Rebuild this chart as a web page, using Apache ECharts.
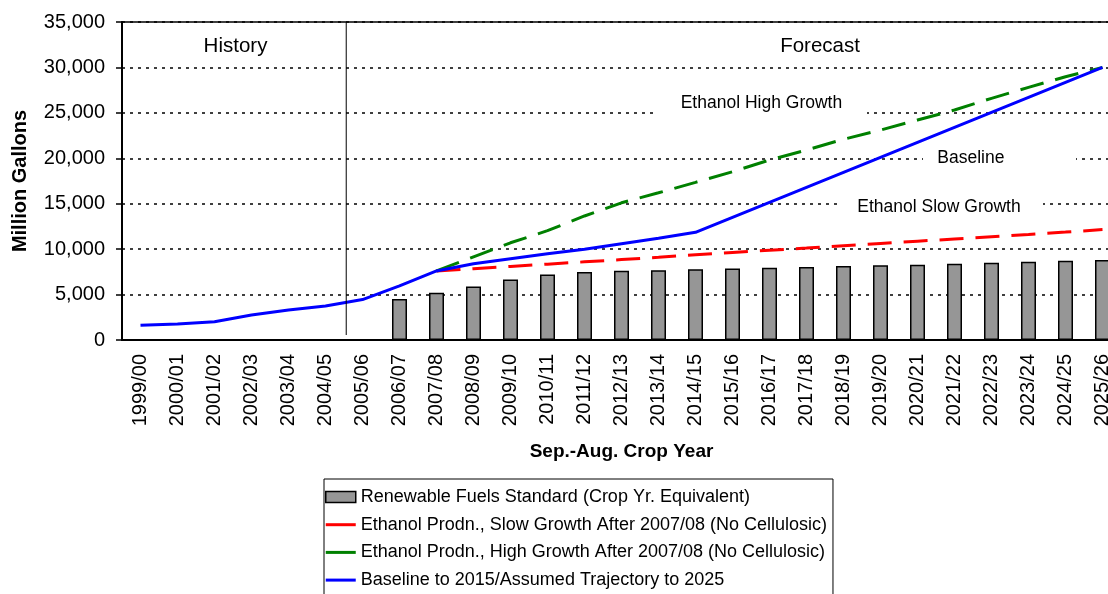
<!DOCTYPE html>
<html>
<head>
<meta charset="utf-8">
<script src="https://cdn.jsdelivr.net/npm/echarts@6/dist/echarts.min.js"></script>
<style>
html,body{margin:0;padding:0;background:#fff;}
#c{width:1108px;height:594px;}
</style>
</head>
<body>
<div id="c"></div>
<script>
const categories = ['1999/00','2000/01','2001/02','2002/03','2003/04','2004/05','2005/06','2006/07','2007/08','2008/09','2009/10','2010/11','2011/12','2012/13','2013/14','2014/15','2015/16','2016/17','2017/18','2018/19','2019/20','2020/21','2021/22','2022/23','2023/24','2024/25','2025/26'];
const yTicks = [0, 5000, 10000, 15000, 20000, 25000, 30000, 35000];

const seriesNames = [
  'Renewable Fuels Standard (Crop Yr. Equivalent)',
  'Ethanol Prodn., Slow Growth After 2007/08 (No Cellulosic)',
  'Ethanol Prodn., High Growth After 2007/08 (No Cellulosic)',
  'Baseline to 2015/Assumed Trajectory to 2025'
];

const rfsStandard = [null,null,null,null,null,null,null,4500,5200,5900,6650,7200,7480,7620,7680,7800,7870,7960,8030,8140,8220,8290,8400,8510,8620,8730,8800];
const slowGrowth = [null,null,null,null,null,null,null,null,7600,7850,8100,8350,8600,8850,9100,9380,9630,9880,10120,10370,10620,10870,11120,11370,11620,11880,12150];
const highGrowth = [null,null,null,null,null,null,null,null,7600,9150,10700,12030,13650,15100,16200,17350,18520,19810,20910,22090,23110,24210,25310,26600,27810,28980,30000];
const baseline = [1610,1760,2010,2750,3300,3740,4450,5950,7600,8400,8950,9500,10000,10600,11200,11850,13500,15150,16800,18450,20100,21750,23400,25050,26700,28350,30000];

const annotations = ['History', 'Forecast', 'Ethanol High Growth', 'Baseline', 'Ethanol Slow Growth'];

const FONT = "'Liberation Sans', Arial, Helvetica, sans-serif";
const fmt = v => String(v).replace(/\B(?=(\d{3})+(?!\d))/g, ',');
const LINE_ICON = 'path://M0,0H30V3H0Z';

const chart = echarts.init(document.getElementById('c'), null, {renderer: 'canvas'});

const option = {
  animation: false,
  backgroundColor: '#fff',
  textStyle: {fontFamily: FONT, color: '#000'},
  grid: {left: 122, top: 22, width: 999, height: 318, outerBoundsMode: 'none', containLabel: false,
         show: true, borderColor: '#000', borderWidth: 1.5, backgroundColor: 'transparent'},
  legend: {
    orient: 'vertical', left: 324, top: 479, height: 160,
    borderColor: '#000', borderWidth: 1, padding: [8, 6, 8, 1],
    itemWidth: 30, itemHeight: 11, itemGap: 7.7,
    symbolKeepAspect: true,
    textStyle: {fontFamily: FONT, fontSize: 18, color: '#000', lineHeight: 20},
    data: [
      {name: seriesNames[0], icon: 'rect', itemStyle: {color: '#969696', borderColor: '#000', borderWidth: 1.5}},
      {name: seriesNames[1], icon: LINE_ICON, itemStyle: {color: '#ff0000', borderWidth: 0}},
      {name: seriesNames[2], icon: LINE_ICON, itemStyle: {color: '#008000', borderWidth: 0}},
      {name: seriesNames[3], icon: LINE_ICON, itemStyle: {color: '#0000ff', borderWidth: 0}}
    ]
  },
  xAxis: {
    type: 'category', data: categories, boundaryGap: true,
    axisLine: {show: true, lineStyle: {color: '#000', width: 2}},
    axisTick: {show: false},
    axisLabel: {interval: 0, rotate: 90, margin: 14, fontSize: 20, color: '#000', fontFamily: FONT},
    splitLine: {show: false},
    name: 'Sep.-Aug. Crop Year', nameLocation: 'middle', nameGap: 102,
    nameTextStyle: {fontSize: 19, fontWeight: 'bold', color: '#000', fontFamily: FONT}
  },
  yAxis: {
    type: 'value', min: 0, max: 35000, interval: 5000,
    axisLine: {show: true, lineStyle: {color: '#000', width: 2}},
    axisTick: {show: true, length: 6, lineStyle: {color: '#000', width: 1.5}},
    axisLabel: {margin: 17, fontSize: 20, color: '#000', fontFamily: FONT, formatter: v => fmt(v)},
    splitLine: {show: true, lineStyle: {color: '#000', width: 1.5, type: [3, 5]}},
    name: 'Million Gallons', nameLocation: 'middle', nameGap: 92,
    nameTextStyle: {fontSize: 20, fontWeight: 'bold', color: '#000', fontFamily: FONT}
  },
  series: [
    {name: seriesNames[0], type: 'bar', data: rfsStandard, barWidth: 15,
     itemStyle: {color: '#969696', borderColor: '#000', borderWidth: 1.5}, z: 2},
    {name: seriesNames[1], type: 'line', data: slowGrowth, symbol: 'none', showSymbol: false,
     lineStyle: {color: '#ff0000', width: 3, type: [24, 12]}, itemStyle: {color: '#ff0000'}, z: 3},
    {name: seriesNames[2], type: 'line', data: highGrowth, symbol: 'none', showSymbol: false,
     lineStyle: {color: '#008000', width: 3, type: [24, 12]}, itemStyle: {color: '#008000'}, z: 4},
    {name: seriesNames[3], type: 'line', data: baseline, symbol: 'none', showSymbol: false,
     lineStyle: {color: '#0000ff', width: 3, type: 'solid'}, itemStyle: {color: '#0000ff'}, z: 5}
  ]
};

chart.setOption(option);

const px5 = chart.convertToPixel({xAxisIndex: 0}, 5);
const px6 = chart.convertToPixel({xAxisIndex: 0}, 6);
const divX = px5 + 0.56 * (px6 - px5);
const yTop = chart.convertToPixel({yAxisIndex: 0}, 35000);
const yBot = chart.convertToPixel({yAxisIndex: 0}, 550);

function box(x1, x2, yc, h) {
  return {type: 'rect', z: 1, shape: {x: x1, y: yc - h / 2, width: x2 - x1, height: h}, style: {fill: '#fff'}, silent: true};
}
function label(txt, x, y, size, align) {
  return {type: 'text', z: 10, x: x, y: y, silent: true,
    style: {text: txt, font: size + 'px ' + FONT, fill: '#000', align: align || 'left', verticalAlign: 'middle'}};
}

chart.setOption({
  graphic: [
    {type: 'line', z: 6, silent: true, shape: {x1: divX, y1: yTop, x2: divX, y2: yBot}, style: {stroke: '#000', lineWidth: 1}},
    label(annotations[0], 235.5, 46, 20.5, 'center'),
    label(annotations[1], 820, 46, 20.5, 'center'),
    box(653, 867, 103, 30),
    label(annotations[2], 680.7, 103.3, 17.5),
    box(923, 1076, 158.3, 18),
    label(annotations[3], 937.3, 158.3, 17.5),
    box(837, 1043, 206, 20),
    label(annotations[4], 857.3, 206.7, 17.5)
  ]
});
</script>
</body>
</html>
